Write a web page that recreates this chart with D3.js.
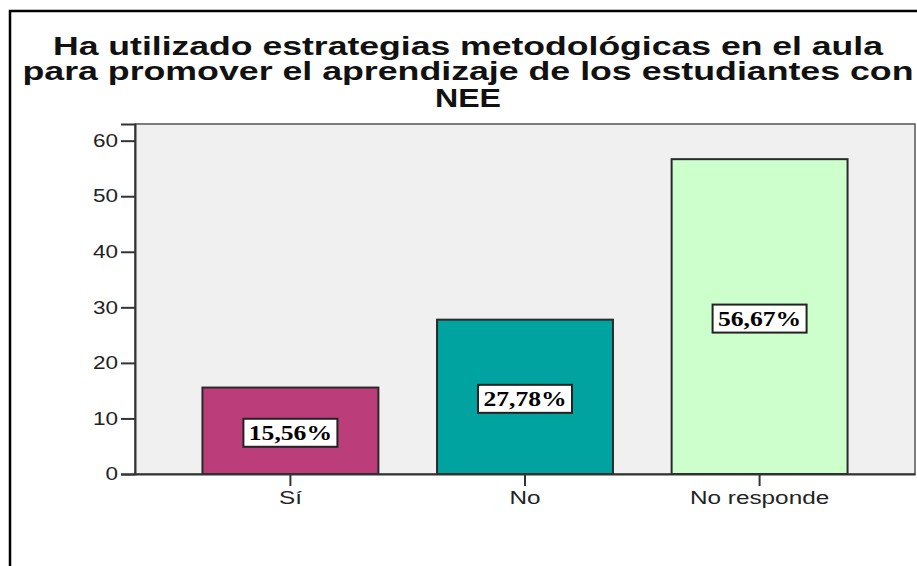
<!DOCTYPE html>
<html>
<head>
<meta charset="utf-8">
<script src="https://cdn.jsdelivr.net/npm/d3@7"></script>
<style>
  body { margin: 0; background: #fff; }
  svg { display: block; }
</style>
</head>
<body>
<div id="chart"></div>
<script>
//
// chart data
//
const categories = ['Sí', 'No', 'No responde'];
const values = [15.56, 27.78, 56.67];
const barColors = ['#bb3d7a', '#00a3a0', '#ccffcc'];
const yTicks = [0, 10, 20, 30, 40, 50, 60];
const titleLines = [
    'Ha utilizado estrategias metodológicas en el aula',
    'para promover el aprendizaje de los estudiantes con',
    'NEE'
];

const width = 917;
const height = 566;
const plot = {left: 135, top: 124, right: 915, bottom: 474};

// the original image is stretched sideways, so widen the text to match
function stretch(sel, k) {
    sel.each(function () {
        const len = this.getComputedTextLength();
        d3.select(this)
            .attr('textLength', len * k)
            .attr('lengthAdjust', 'spacingAndGlyphs');
    });
}

const svg = d3.select('#chart').append('svg')
    .attr('width', width)
    .attr('height', height);

// outer frame
svg.append('path')
    .attr('d', `M10,${height + 5} L10,11 L${width + 5},11`)
    .attr('fill', 'none')
    .attr('stroke', '#000')
    .attr('stroke-width', 2.5);

// title
const title = svg.append('g');
const titleBase = [55, 80, 107];
const titleWidth = [830, 891, 66];
titleLines.forEach((t, i) => {
    title.append('text')
        .attr('x', 468)
        .attr('y', titleBase[i])
        .attr('text-anchor', 'middle')
        .attr('textLength', titleWidth[i])
        .attr('lengthAdjust', 'spacingAndGlyphs')
        .style('font-family', '"Liberation Sans", Arial, sans-serif')
        .style('font-weight', 'bold')
        .style('font-size', '25px')
        .attr('fill', '#111')
        .text(t);
});

// scales
const x = d3.scaleBand()
    .domain(categories)
    .range([plot.left, plot.right])
    .paddingInner(0.25)
    .paddingOuter(0.2875);

const y = d3.scaleLinear()
    .domain([0, 63])
    .range([plot.bottom, plot.top]);

// plot background
svg.append('rect')
    .attr('x', plot.left)
    .attr('y', plot.top)
    .attr('width', plot.right - plot.left)
    .attr('height', plot.bottom - plot.top)
    .attr('fill', '#f0f0f0')
    .attr('stroke', '#555')
    .attr('stroke-width', 1.5);

// bars
svg.append('g')
    .selectAll('rect')
    .data(values)
    .join('rect')
    .attr('x', (d, i) => x(categories[i]))
    .attr('y', d => y(d))
    .attr('width', x.bandwidth())
    .attr('height', d => y(0) - y(d))
    .attr('fill', (d, i) => barColors[i])
    .attr('stroke', '#2a2a2a')
    .attr('stroke-width', 2);

// value labels
const fmt = d => d.toFixed(2).replace('.', ',') + '%';
const labels = svg.append('g')
    .selectAll('g')
    .data(values)
    .join('g')
    .attr('transform', (d, i) =>
        `translate(${x(categories[i]) + x.bandwidth() / 2}, ${(y(d) + y(0)) / 2 + 2})`);

labels.append('rect')
    .attr('x', -47)
    .attr('y', -14)
    .attr('width', 94)
    .attr('height', 28)
    .attr('fill', '#fff')
    .attr('stroke', '#222')
    .attr('stroke-width', 2);

labels.append('text')
    .attr('text-anchor', 'middle')
    .attr('dy', '0.35em')
    .style('font-family', '"Liberation Serif", "Times New Roman", serif')
    .style('font-weight', 'bold')
    .style('font-size', '20px')
    .attr('fill', '#000')
    .text(fmt)
    .call(stretch, 1.28);

// y axis
const yAxis = svg.append('g')
    .attr('transform', `translate(${plot.left}, 0)`)
    .call(d3.axisLeft(y).tickValues(yTicks).tickSize(14).tickPadding(3));
yAxis.select('.domain').attr('stroke', '#333').attr('stroke-width', 2);
yAxis.selectAll('.tick line').attr('stroke', '#333').attr('stroke-width', 2);
yAxis.selectAll('text')
    .style('font-family', '"Liberation Sans", Arial, sans-serif')
    .style('font-size', '18px')
    .attr('fill', '#222')
    .call(stretch, 1.25);

// x axis
const xAxis = svg.append('g')
    .attr('transform', `translate(0, ${plot.bottom})`)
    .call(d3.axisBottom(x).tickSize(12).tickSizeOuter(0).tickPadding(5));
xAxis.select('.domain').attr('stroke', '#333').attr('stroke-width', 2);
xAxis.selectAll('.tick line').attr('stroke', '#333').attr('stroke-width', 2);
xAxis.selectAll('text')
    .style('font-family', '"Liberation Sans", Arial, sans-serif')
    .style('font-size', '18px')
    .attr('fill', '#222')
    .call(stretch, 1.35);
</script>
</body>
</html>
